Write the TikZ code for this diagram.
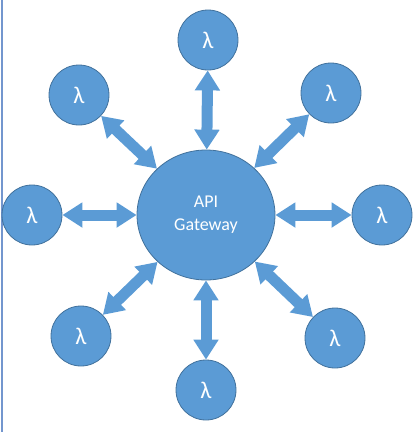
\documentclass[tikz,border=0pt]{standalone}
\usepackage{fontspec}
\setmainfont{Carlito}
\usetikzlibrary{arrows.meta,shapes.geometric}
\definecolor{lamfill}{HTML}{5B9BD5}
\definecolor{lamedge}{HTML}{41719C}
\definecolor{sideline}{HTML}{7396CE}
\begin{document}
\begin{tikzpicture}[x=1pt,y=-1pt,
  lam/.style={circle,draw=lamedge,line width=0.8pt,fill=lamfill,minimum size=60pt,inner sep=0pt,text=white,font=\fontsize{24}{26}\selectfont},
  gw/.style={ellipse,draw=lamedge,line width=0.8pt,fill=lamfill,minimum width=138pt,minimum height=130pt,inner sep=0pt,text=white,align=center,font=\fontsize{18}{23}\selectfont},
  link/.style={lamfill,line width=11pt,{Triangle[length=20pt,width=24pt]}-{Triangle[length=20pt,width=24pt]}}
]
\useasboundingbox (0,0) rectangle (414,432);
\draw[sideline,line width=1.6pt] (1.8,0) -- (1.8,432);
\node[gw] (gw) at (206,215) {API\\Gateway};
\node[lam] (t) at (208,40) {λ};
\node[lam] (tl) at (79,95) {λ};
\node[lam] (tr) at (331,93) {λ};
\node[lam] (l) at (32,215) {λ};
\node[lam] (r) at (382,215) {λ};
\node[lam] (bl) at (81,336) {λ};
\node[lam] (br) at (335,338) {λ};
\node[lam] (b) at (206,390) {λ};
\foreach \n in {t,tl,tr,l,r,bl,br,b}{\draw[link] (gw) -- (\n);}
\end{tikzpicture}
\end{document}
